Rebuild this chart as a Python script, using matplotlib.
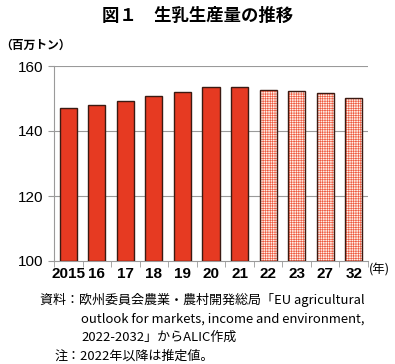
import matplotlib
matplotlib.use("Agg")
import matplotlib.pyplot as plt
import numpy as np

plt.rcParams['font.family'] = ['Liberation Sans', 'Noto Sans CJK JP']
plt.rcParams['hatch.linewidth'] = 0.45

years = ["2015", "16", "17", "18", "19", "20", "21", "22", "23", "27", "32"]
values = [147.0, 147.9, 149.1, 150.7, 151.9, 153.4, 153.4, 152.5, 152.2, 151.6, 150.1]
estimated = [False] * 7 + [True] * 4
y_ticks = [100, 120, 140, 160]

red = "#e63a22"
edge = "#3b1a12"
grid = "#9a9a9a"
jp = ['Noto Sans CJK JP', 'DejaVu Sans']

fig = plt.figure(figsize=(3.95, 3.64), dpi=100)
ax = fig.add_axes([54 / 395, 1 - 261 / 364, 314 / 395, 195 / 364])

x = np.arange(len(years))
w = 0.6
for xi, v, est in zip(x, values, estimated):
    if est:
        ax.bar(xi, v - 100, w, bottom=100, color="#fff0e8", edgecolor="#ee5a40",
               hatch="+++++++", linewidth=0, zorder=3)
        ax.bar(xi, v - 100, w, bottom=100, fill=False, edgecolor=edge,
               linewidth=1.0, zorder=4)
    else:
        ax.bar(xi, v - 100, w, bottom=100, color=red, edgecolor=edge,
               linewidth=1.0, zorder=3)

ax.set_xlim(-0.5, len(years) - 0.5)
ax.set_ylim(100, 160)
ax.set_yticks(y_ticks)
ax.set_yticklabels([str(t) for t in y_ticks], fontsize=11)
for t in y_ticks[1:]:
    ax.axhline(t, color=grid, linewidth=0.8, zorder=1)

ax.set_xticks(x)
ax.set_xticklabels(years, fontsize=11, fontweight="bold")
ax.set_xticks(np.arange(len(years) + 1) - 0.5, minor=True)
ax.tick_params(axis="x", which="major", length=0, pad=4)
ax.tick_params(axis="x", which="minor", length=4, color=grid, direction="out")
ax.tick_params(axis="y", length=4, color=grid, pad=4)

for s in ["top", "right"]:
    ax.spines[s].set_visible(False)
ax.spines["left"].set_color(grid)
ax.spines["bottom"].set_color(grid)

fig.text(198 / 395, 1 - 16 / 364, "図１　生乳生産量の推移", family=jp,
         fontsize=12.5, fontweight="bold", ha="center", va="center")
fig.text(0 / 395, 1 - 45 / 364, "（百万トン）", family=jp, fontsize=8.5,
         fontweight="bold", ha="left", va="center")
fig.text(369 / 395, 1 - 270 / 364, "(年)", family=jp, fontsize=9,
         ha="left", va="center")

fs = 9.4
fig.text(40 / 395, 1 - 300 / 364, "資料：欧州委員会農業・農村開発総局「EU agricultural",
         family=jp, fontsize=fs, ha="left", va="center")
fig.text(81 / 395, 1 - 319 / 364, "outlook for markets, income and environment,",
         family=jp, fontsize=fs, ha="left", va="center")
fig.text(81 / 395, 1 - 337 / 364, "2022-2032」からALIC作成",
         family=jp, fontsize=fs, ha="left", va="center")
fig.text(54 / 395, 1 - 356 / 364, "注：2022年以降は推定値。",
         family=jp, fontsize=fs, ha="left", va="center")

fig.savefig("out.png", dpi=100)
